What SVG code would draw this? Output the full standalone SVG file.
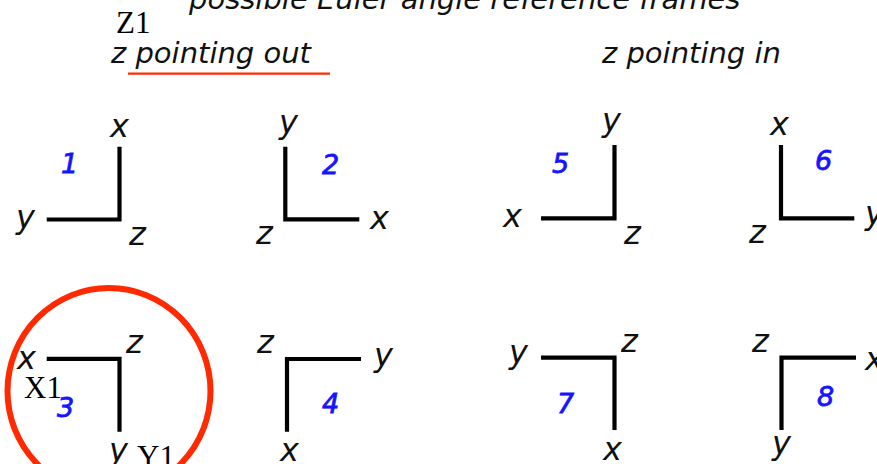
<svg xmlns="http://www.w3.org/2000/svg" width="877" height="464" viewBox="0 0 877 464">
<style>
  .hdr { font-family: "DejaVu Sans", Verdana, sans-serif; font-style: italic; font-size: 29px; fill: #111; }
  .ax { font-family: "DejaVu Sans", Verdana, sans-serif; font-style: italic; font-size: 32px; fill: #111; }
  .num { font-family: "DejaVu Sans", Verdana, sans-serif; font-style: italic; font-size: 27px; fill: #1414ff; stroke: #1414ff; stroke-width: 0.8px; }
  .tm { font-family: "Liberation Serif", "Times New Roman", serif; font-size: 31px; fill: #000; }
  .axis { fill: none; stroke: #000; stroke-width: 4.2; stroke-linejoin: miter; stroke-linecap: butt; }
  .red { fill: none; stroke: #ff2a00; }
</style>
<rect width="877" height="464" fill="#fff"/>
<text class="hdr" x="189" y="9">possible Euler angle reference frames</text>
<g id="header-out">
  <text class="hdr" x="111" y="63">z pointing out</text>
</g>
<g id="header-in">
  <text class="hdr" x="602" y="63">z pointing in</text>
</g>
<g id="annotations">
  <text class="tm" x="116" y="33">Z1</text>
  <line class="red" x1="128" y1="73.7" x2="330" y2="73.7" stroke-width="2.2"/>
  <ellipse class="red" cx="109" cy="391" rx="101.5" ry="103" stroke-width="6"/>
</g>
<g id="frame1">
  <polyline class="axis" points="46.7,219.5 119.5,219.5 119.5,146.7"/>
  <text class="ax" x="110" y="136.5">x</text>
  <text class="ax" x="16" y="227.5">y</text>
  <text class="ax" x="129" y="245">z</text>
  <text class="num" x="61" y="173">1</text>
</g>
<g id="frame2">
  <polyline class="axis" points="285.3,146.7 285.3,219.3 359.3,219.3"/>
  <text class="ax" x="279" y="133">y</text>
  <text class="ax" x="256" y="244">z</text>
  <text class="ax" x="370" y="229">x</text>
  <text class="num" x="322" y="174">2</text>
</g>
<g id="frame5">
  <polyline class="axis" points="541,218.3 614.5,218.3 614.5,145"/>
  <text class="ax" x="602" y="131">y</text>
  <text class="ax" x="503" y="226.5">x</text>
  <text class="ax" x="624" y="244">z</text>
  <text class="num" x="552" y="172.5">5</text>
</g>
<g id="frame6">
  <polyline class="axis" points="781,145 781,218.3 854.3,218.3"/>
  <text class="ax" x="770" y="135">x</text>
  <text class="ax" x="749" y="243">z</text>
  <text class="ax" x="865" y="224">y</text>
  <text class="num" x="815" y="170">6</text>
</g>
<g id="frame3">
  <polyline class="axis" points="46.7,358.8 119.5,358.8 119.5,431.7"/>
  <text class="ax" x="126" y="353">z</text>
  <text class="ax" x="17" y="369">x</text>
  <text class="ax" x="109" y="460.5">y</text>
  <text class="num" x="57" y="416.5">3</text>
  <text class="tm" x="24" y="398">X1</text>
  <text class="tm" x="137" y="467">Y1</text>
</g>
<g id="frame4">
  <polyline class="axis" points="361,359 287,359 287,431.7"/>
  <text class="ax" x="257" y="352.7">z</text>
  <text class="ax" x="374" y="365.5">y</text>
  <text class="ax" x="280" y="461">x</text>
  <text class="num" x="322" y="413">4</text>
</g>
<g id="frame7">
  <polyline class="axis" points="541,357.7 614.5,357.7 614.5,430"/>
  <text class="ax" x="621" y="351.7">z</text>
  <text class="ax" x="509" y="362.5">y</text>
  <text class="ax" x="603" y="460">x</text>
  <text class="num" x="557" y="413">7</text>
</g>
<g id="frame8">
  <polyline class="axis" points="856,357.7 781.5,357.7 781.5,430"/>
  <text class="ax" x="752" y="351.7">z</text>
  <text class="ax" x="865" y="369.5">x</text>
  <text class="ax" x="772" y="454">y</text>
  <text class="num" x="817" y="406">8</text>
</g>
</svg>
